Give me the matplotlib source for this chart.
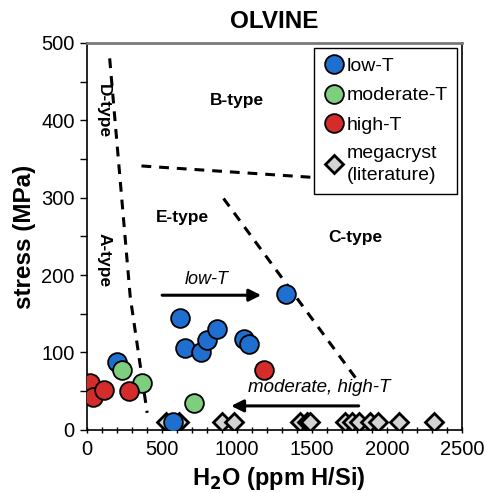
import matplotlib
matplotlib.use("Agg")
import matplotlib.pyplot as plt
import numpy as np

plt.rcParams['font.family'] = ['Liberation Sans', 'DejaVu Sans']

# ---- data (H2O ppm H/Si, stress MPa) ----
low_x = [202, 571, 620, 653, 758, 798, 864, 1047, 1080, 1327]
low_y = [88, 10, 145, 106, 101, 116, 131, 117, 111, 176]
mod_x = [231, 364, 709]
mod_y = [77, 61, 35]
high_x = [20, 42, 109, 282, 1176]
high_y = [61, 43, 52, 50, 77]
mega_x = [525, 615, 898, 976, 1420, 1464, 1487, 1720, 1764, 1809, 1887, 1942, 2076, 2313]
mega_y = [10] * len(mega_x)

# fabric boundaries
bound_DA_x = [150, 287, 400]
bound_DA_y = [480, 172, 22]
bound_BE_x = [362, 1600]
bound_BE_y = [341, 325]
bound_EC_x = [909, 1809]
bound_EC_y = [299, 62]

fig = plt.figure(figsize=(4.87, 4.93), dpi=100)
ax = fig.add_axes([0.179, 0.128, 0.770, 0.785])

dash = dict(color='black', lw=2.2, ls=(0, (3.2, 2.6)), zorder=2)
ax.plot(bound_DA_x, bound_DA_y, **dash)
ax.plot(bound_BE_x, bound_BE_y, **dash)
ax.plot(bound_EC_x, bound_EC_y, **dash)

ax.plot(mega_x, mega_y, ls='none', marker='D', ms=9, mfc='#d3d3d3', mec='black',
        mew=2, zorder=3, label='megacryst\n(literature)')
ax.plot(low_x, low_y, ls='none', marker='o', ms=13.5, mfc='#1f6fd1', mec='black',
        mew=1.3, zorder=4, label='low-T')
ax.plot(mod_x, mod_y, ls='none', marker='o', ms=13.5, mfc='#7dcf7d', mec='black',
        mew=1.3, zorder=4, label='moderate-T')
ax.plot(high_x, high_y, ls='none', marker='o', ms=13.5, mfc='#d42b2b', mec='black',
        mew=1.3, zorder=4, label='high-T')

# arrows
ax.annotate('', xy=(1160, 174), xytext=(500, 174),
            arrowprops=dict(arrowstyle='-|>', lw=2.2, color='black',
                            mutation_scale=18, shrinkA=0, shrinkB=0), zorder=5)
ax.text(800, 188, 'low-T', style='italic', fontsize=13, ha='center', va='baseline')
ax.annotate('', xy=(960, 31), xytext=(1810, 31),
            arrowprops=dict(arrowstyle='-|>', lw=2.2, color='black',
                            mutation_scale=18, shrinkA=0, shrinkB=0), zorder=5)
ax.text(1550, 49, 'moderate, high-T', style='italic', fontsize=13.5, ha='center', va='baseline')

# region labels
ax.text(1000, 425, 'B-type', fontsize=12.5, fontweight='bold', ha='center', va='center')
ax.text(633, 274, 'E-type', fontsize=12.5, fontweight='bold', ha='center', va='center')
ax.text(1787, 249, 'C-type', fontsize=12.5, fontweight='bold', ha='center', va='center')
ax.text(105, 412, 'D-type', fontsize=12.5, fontweight='bold', ha='center', va='center', rotation=-90)
ax.text(110, 220, 'A-type', fontsize=12.5, fontweight='bold', ha='center', va='center', rotation=-90)

ax.set_xlim(0, 2500)
ax.set_ylim(0, 500)
ax.set_xticks(np.arange(0, 2501, 500))
ax.set_xticks(np.arange(0, 2501, 100), minor=True)
ax.set_yticks(np.arange(0, 501, 100))
ax.set_yticks(np.arange(0, 501, 50), minor=True)
ax.tick_params(axis='both', which='major', labelsize=14.5, width=1, length=5)
ax.tick_params(axis='x', which='both', direction='inout')
ax.tick_params(axis='x', which='major', pad=5)
ax.tick_params(axis='y', which='major', pad=4)
ax.tick_params(axis='x', which='minor', length=5, width=1)
ax.tick_params(axis='y', which='minor', length=5, width=1)

for s in ['left', 'bottom', 'right']:
    ax.spines[s].set_linewidth(1.2)
ax.spines['top'].set_color('#7a7a7a')
ax.spines['top'].set_linewidth(2)

ax.set_xlabel('H$_\\mathbf{2}$O (ppm H/Si)', fontsize=17, fontweight='bold')
ax.xaxis.set_label_coords(0.51, -0.09)
ax.set_ylabel('stress (MPa)', fontsize=17.5, fontweight='bold', labelpad=4)
ax.set_title('OLVINE', fontsize=17.5, fontweight='bold', pad=11)

h, l = ax.get_legend_handles_labels()
order = [1, 2, 3, 0]
leg = ax.legend([h[i] for i in order], [l[i] for i in order], loc='upper right',
                fontsize=14, frameon=True, fancybox=False, edgecolor='black',
                framealpha=1, borderaxespad=0.25, handletextpad=0.15,
                handlelength=1.0, labelspacing=0.6, borderpad=0.5)
for t in leg.get_texts():
    t.set_linespacing(1.35)
leg.get_frame().set_linewidth(1)
leg.set_zorder(10)

fig.savefig('out.png', dpi=100)
